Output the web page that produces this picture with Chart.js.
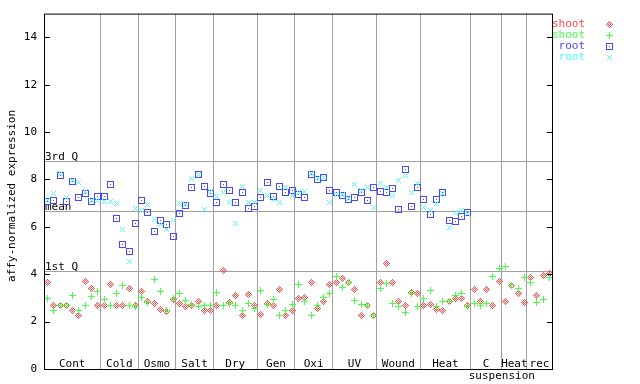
<!DOCTYPE html>
<html><head><meta charset="utf-8">
<script src="https://cdn.jsdelivr.net/npm/chart.js@4/dist/chart.umd.min.js"></script>
<style>html,body{margin:0;padding:0;background:#fff;}#wrap{width:640px;height:384px;}</style>
</head><body><div id="wrap"><canvas id="c" width="640" height="384"></canvas></div>
<script>
// ---------- data ----------
const groupNames = ['Cont','Cold','Osmo','Salt','Dry','Gen','Oxi','UV','Wound','Heat','C','Heat','rec'];
const groupSubLabels = ['','','','','','','','','','','suspension','',''];
const groupSizes = [9,6,6,6,7,6,6,7,7,8,5,4,4];
const seriesNames = ['shoot','shoot','root','root'];
const yTicks = [0,2,4,6,8,10,12,14];
const refLabels = ['3rd Q','mean','1st Q'];
const refValues = [8.77, 6.68, 4.13];

const shootRed = [3.66,2.72,2.72,2.72,2.51,2.30,3.71,3.40,2.72,2.72,3.57,2.72,2.72,3.43,2.72,3.29,2.89,2.78,2.55,2.44,2.96,2.78,2.65,2.72,2.86,2.51,2.51,2.72,4.17,2.83,3.12,2.30,3.15,2.72,2.34,2.77,2.72,3.36,2.30,2.51,2.98,3.03,3.66,2.58,2.89,3.57,3.66,3.83,3.66,3.36,2.30,2.72,2.30,3.66,4.47,3.66,2.86,2.72,3.23,3.19,2.72,2.75,2.55,2.47,2.89,2.98,2.98,2.72,3.36,2.86,3.36,2.72,3.70,2.85,3.53,3.19,2.81,3.87,3.11,3.96,4.04];
const shootGreen = [2.99,2.51,2.72,2.72,3.11,2.51,2.72,3.08,3.30,2.94,2.72,3.22,3.54,2.72,2.65,3.03,2.82,3.79,3.29,2.47,3.00,3.19,2.91,2.75,2.65,2.72,2.72,3.23,2.72,2.78,2.72,2.47,2.77,2.58,3.32,2.75,2.94,2.30,2.47,2.75,3.57,2.89,2.30,2.72,3.03,3.19,3.92,3.46,3.66,2.91,2.75,2.72,2.30,3.40,3.61,2.77,2.68,2.41,3.19,2.68,2.98,3.32,2.64,2.85,2.89,3.11,3.19,2.68,2.77,2.72,2.77,3.92,4.25,4.34,3.53,3.40,3.87,3.66,2.81,2.94,3.87];
const rootBlue = [7.09,7.15,8.20,7.10,7.94,7.28,7.43,7.10,7.32,7.32,7.79,6.38,5.28,4.99,6.17,7.15,6.64,5.84,6.30,6.11,5.62,6.60,6.92,7.70,8.21,7.74,7.43,7.06,7.79,7.57,7.06,7.45,6.81,6.89,7.28,7.91,7.32,7.74,7.45,7.57,7.40,7.28,8.24,8.01,8.09,7.57,7.49,7.36,7.17,7.28,7.49,7.15,7.70,7.53,7.45,7.62,6.77,8.43,6.89,7.70,7.19,6.55,7.19,7.49,6.30,6.26,6.47,6.64,null,null,null,null,null,null,null,null,null,null,null,null,null];
const rootCyan = [7.12,7.42,8.26,7.28,7.96,7.91,7.51,7.12,7.15,7.08,7.10,6.99,5.89,4.55,6.81,6.72,6.95,6.35,6.12,5.90,6.27,6.99,6.95,8.05,8.25,6.74,7.50,7.30,7.45,7.05,6.17,7.74,7.06,7.06,7.57,7.36,7.19,7.06,7.70,7.36,7.45,7.53,8.28,8.05,8.09,7.06,7.40,7.40,7.23,7.79,7.57,7.70,6.85,7.87,7.70,7.36,7.96,8.17,7.49,7.87,6.85,6.72,7.02,7.43,6.00,6.64,6.72,6.60,null,null,null,null,null,null,null,null,null,null,null,null,null];

// ---------- styles ----------
const FONT = '"DejaVu Sans Mono", "Liberation Mono", monospace';
const colors = ['#ff4848','#48ff48','#4848ff','#48ffff'];
const kinds = ['diamond','plus','square','x'];
const GRID = '#a0a0a0';

function makeMarker(kind, color) {
  const s = 9, c = 4;
  const cv = document.createElement('canvas');
  cv.width = s; cv.height = s;
  const g = cv.getContext('2d');
  g.fillStyle = color;
  for (let dy = -4; dy <= 4; dy++) for (let dx = -4; dx <= 4; dx++) {
    const ax = Math.abs(dx), ay = Math.abs(dy), m = ax + ay;
    let on = false;
    if (kind === 'diamond') on = (m === 1 || m === 3);
    else if (kind === 'plus') on = (dx === 0 && ay <= 3) || (dy === 0 && ax <= 3);
    else if (kind === 'square') on = (Math.max(ax, ay) === 3) || (m === 0);
    else if (kind === 'x') on = (ax === ay && ax <= 2);
    if (on) g.fillRect(c + dx, c + dy, 1, 1);
  }
  return cv;
}
const markers = kinds.map((k, i) => makeMarker(k, colors[i]));

const boundaries = [];
{ let acc = 0; groupSizes.forEach(n => { acc += n; boundaries.push(acc); }); }
const total = boundaries[boundaries.length - 1];
const groupStarts = [0].concat(boundaries.slice(0, -1));

function toPoints(arr) {
  const out = [];
  arr.forEach((v, i) => { if (v !== null) out.push({x: i + 0.5, y: v}); });
  return out;
}
const allSeries = [shootRed, shootGreen, rootBlue, rootCyan];

const overlay = {
  id: 'overlay',
  beforeDatasetsDraw(chart) {
    const ctx = chart.ctx, a = chart.chartArea, y = chart.scales.y;
    ctx.save();
    ctx.strokeStyle = GRID; ctx.lineWidth = 1;
    refValues.forEach((v) => {
      const py = Math.round(y.getPixelForValue(v)) + 0.5;
      ctx.beginPath(); ctx.moveTo(a.left, py); ctx.lineTo(a.right, py); ctx.stroke();
    });
    ctx.fillStyle = '#000'; ctx.font = '11px ' + FONT;
    ctx.textAlign = 'left'; ctx.textBaseline = 'alphabetic';
    refValues.forEach((v, i) => {
      const py = Math.round(y.getPixelForValue(v));
      ctx.fillText(refLabels[i], a.left + 1, py - 1);
    });
    ctx.restore();
  },
  afterDatasetsDraw(chart) {
    // crisp pixel markers placed at the library-computed element positions
    const ctx = chart.ctx;
    chart.data.datasets.forEach((ds, di) => {
      const meta = chart.getDatasetMeta(di);
      meta.data.forEach(el => {
        ctx.drawImage(markers[di], Math.round(el.x) - 4, Math.round(el.y) - 4);
      });
    });
  },
  afterDraw(chart) {
    const ctx = chart.ctx, a = chart.chartArea, x = chart.scales.x, y = chart.scales.y;
    ctx.save();
    // frame
    ctx.strokeStyle = '#000'; ctx.lineWidth = 1;
    ctx.strokeRect(a.left + 0.5, a.top + 0.5, a.right - a.left, a.bottom - a.top);
    // inward ticks
    yTicks.forEach(v => {
      const py = Math.round(y.getPixelForValue(v)) + 0.5;
      ctx.beginPath();
      ctx.moveTo(a.left, py); ctx.lineTo(a.left + 6, py);
      ctx.moveTo(a.right - 5, py); ctx.lineTo(a.right + 1, py);
      ctx.stroke();
    });
    // group labels
    ctx.fillStyle = '#000'; ctx.font = '11px ' + FONT;
    ctx.textAlign = 'center'; ctx.textBaseline = 'middle';
    groupNames.forEach((name, i) => {
      const cx = x.getPixelForValue(groupStarts[i] + groupSizes[i] / 2);
      ctx.fillText(name, cx, a.bottom - 5);
      if (groupSubLabels[i]) {
        const sx = x.getPixelForValue(boundaries[i]);
        ctx.fillText(groupSubLabels[i], sx, a.bottom + 7);
      }
    });
    // y title
    ctx.save();
    ctx.translate(12, 196); ctx.rotate(-Math.PI / 2);
    ctx.fillText('affy-normalized expression', 0, 0);
    ctx.restore();
    // legend
    ctx.textAlign = 'right'; ctx.textBaseline = 'middle';
    seriesNames.forEach((n, i) => {
      const ly = 24 + i * 11;
      ctx.fillStyle = colors[i];
      ctx.fillText(n, 585, ly);
      ctx.drawImage(markers[i], 605, ly - 4);
    });
    ctx.restore();
  }
};

new Chart(document.getElementById('c'), {
  type: 'scatter',
  data: {
    datasets: allSeries.map((arr, i) => ({
      label: seriesNames[i],
      data: toPoints(arr),
      pointRadius: 0,
      pointHoverRadius: 0,
      showLine: false
    }))
  },
  options: {
    responsive: false,
    animation: false,
    devicePixelRatio: 1,
    layout: { padding: { top: 13, right: 88, left: 0, bottom: 0 } },
    plugins: { legend: { display: false }, tooltip: { enabled: false } },
    scales: {
      x: {
        type: 'linear', min: 0, max: total,
        afterBuildTicks: s => { s.ticks = boundaries.slice(0, -1).map(v => ({ value: v })); },
        afterFit: s => { s.height = 15; },
        grid: { color: GRID, lineWidth: 1, drawTicks: false },
        border: { display: false },
        ticks: { display: false }
      },
      y: {
        type: 'linear', min: 0, max: 15,
        afterBuildTicks: s => { s.ticks = yTicks.map(v => ({ value: v })); },
        afterFit: s => { s.width = 44; },
        grid: { display: false, drawTicks: false },
        border: { display: false },
        ticks: { color: '#000', font: { family: FONT, size: 11 }, padding: 7 }
      }
    }
  },
  plugins: [overlay]
});
</script>
</body></html>
